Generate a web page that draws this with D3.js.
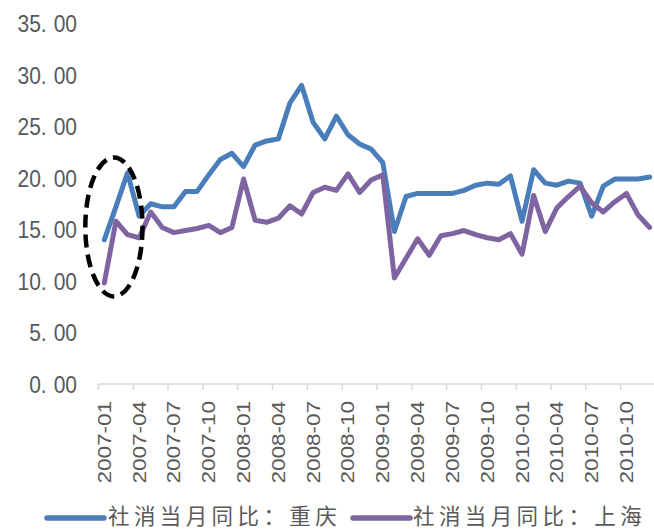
<!DOCTYPE html>
<html><head><meta charset="utf-8">
<script src="https://cdn.jsdelivr.net/npm/d3@7"></script>
<style>
html,body{margin:0;padding:0;background:#fff;}
svg{display:block;}
</style></head>
<body>
<svg id="chart" width="654" height="530"></svg>
<script>
// ---- data ----
const months = [
 "2007-01","2007-02","2007-03","2007-04","2007-05","2007-06","2007-07","2007-08","2007-09","2007-10","2007-11","2007-12",
 "2008-01","2008-02","2008-03","2008-04","2008-05","2008-06","2008-07","2008-08","2008-09","2008-10","2008-11","2008-12",
 "2009-01","2009-02","2009-03","2009-04","2009-05","2009-06","2009-07","2009-08","2009-09","2009-10","2009-11","2009-12",
 "2010-01","2010-02","2010-03","2010-04","2010-05","2010-06","2010-07","2010-08","2010-09","2010-10","2010-11","2010-12"];
const chongqing = [
 14.0,17.2,20.5,16.3,17.5,17.2,17.2,18.7,18.7,20.3,21.8,22.4,
 21.1,23.2,23.6,23.8,27.3,29.0,25.4,23.8,26.0,24.2,23.3,22.8,
 21.5,14.8,18.2,18.5,18.5,18.5,18.5,18.8,19.3,19.5,19.4,20.2,
 15.8,20.8,19.5,19.3,19.7,19.5,16.3,19.2,19.9,19.9,19.9,20.1];
const shanghai = [
 9.8,15.8,14.5,14.2,16.7,15.2,14.7,14.9,15.1,15.4,14.7,15.2,
 19.9,15.9,15.7,16.1,17.3,16.5,18.6,19.1,18.8,20.4,18.6,19.8,
 20.3,10.3,12.2,14.1,12.5,14.4,14.6,14.9,14.5,14.2,14.0,14.6,
 12.6,18.3,14.8,17.1,18.2,19.2,17.6,16.7,17.7,18.5,16.4,15.2];
const yTicks = [0,5,10,15,20,25,30,35];
const seriesNames = ["社消当月同比：重庆","社消当月同比：上海"];
const highlight = {from:"2007-01", to:"2007-03", lo:8.5, hi:22.0};

// ---- layout ----
const svg = d3.select("#chart");
const colors = ["#4A7EBB","#8064A2"];
const textColor = "#595959";
const x = d3.scaleBand().domain(months).range([98.5, 655.5]).padding(0);
const y = d3.scaleLinear().domain([0,35]).range([384, 23.5]);
const cx = d => x(d) + x.bandwidth()/2;

// y tick labels
const yl = svg.append("g");
yTicks.forEach(t => {
  const s = d3.format(".2f")(t);
  const parts = s.split(".");
  const g = yl.append("g").attr("transform", `translate(77,${y(t)}) scale(1,1.15)`);
  const tx = g.append("text").attr("text-anchor","end").attr("dy","0.36em")
    .attr("font-family","'Liberation Sans', Arial, sans-serif").attr("font-size",21)
    .attr("fill",textColor);
  tx.append("tspan").text(parts[0] + ".");
  tx.append("tspan").attr("dx",7).text(parts[1]);
});

// x axis line and ticks
const xa = svg.append("g");
xa.append("line").attr("x1", x.range()[0]).attr("x2", x.range()[1])
  .attr("y1", y(0)).attr("y2", y(0)).attr("stroke","#d9d9d9").attr("stroke-width",1.5);
months.forEach((m,i) => {
  if (i % 3 !== 0) return;
  xa.append("line").attr("x1", x(m)).attr("x2", x(m)).attr("y1", y(0)).attr("y2", y(0)+6)
    .attr("stroke","#d9d9d9").attr("stroke-width",1.5);
  xa.append("g").attr("transform", `translate(${cx(m)},${y(0)+17}) rotate(-90) scale(1.25,1)`)
    .append("text").attr("text-anchor","end").attr("dy","0.36em")
    .attr("font-family","'Liberation Sans', Arial, sans-serif").attr("font-size",18)
    .attr("fill",textColor).text(m);
});

// lines
const line = d3.line().x((d,i) => cx(months[i])).y(d => y(d));
[chongqing, shanghai].forEach((s,k) => {
  svg.append("path").datum(s).attr("d", line).attr("fill","none")
    .attr("stroke", colors[k]).attr("stroke-width",5)
    .attr("stroke-linejoin","round").attr("stroke-linecap","round");
});

// dashed ellipse annotation
const ex0 = cx(highlight.from), ex1 = cx(highlight.to);
svg.append("ellipse")
  .attr("cx", (ex0+ex1)/2 - 2).attr("cy", (y(highlight.lo)+y(highlight.hi))/2)
  .attr("rx", (ex1-ex0)/2 + 17).attr("ry", (y(highlight.lo)-y(highlight.hi))/2)
  .attr("fill","none").attr("stroke","#000").attr("stroke-width",4.5)
  .attr("stroke-dasharray","13,7");

// legend
const legendItems = [{x0:47, x1:104, tx:108}, {x0:353, x1:410, tx:413}];
legendItems.forEach((it,k) => {
  svg.append("line").attr("x1",it.x0).attr("x2",it.x1).attr("y1",518).attr("y2",518)
    .attr("stroke",colors[k]).attr("stroke-width",5.5).attr("stroke-linecap","round");
  svg.append("text").attr("x", it.tx).attr("y", 516).attr("dy","0.36em")
    .attr("font-family","'Noto Sans CJK SC', sans-serif").attr("font-size",21.5)
    .attr("letter-spacing", 4.4)
    .attr("fill",textColor).text(seriesNames[k]);
});
</script>
</body></html>
